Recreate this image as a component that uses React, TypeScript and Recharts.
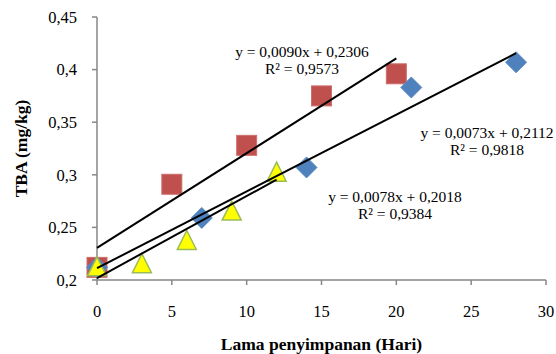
import {
  ScatterChart,
  Scatter,
  XAxis,
  YAxis,
  Label,
  Customized,
} from 'recharts';

const DAYS_A = [0, 7, 14, 21, 28];
const TBA_A = [0.212, 0.259, 0.307, 0.383, 0.407];

const DAYS_B = [0, 5, 10, 15, 20];
const TBA_B = [0.212, 0.291, 0.328, 0.375, 0.396];

const DAYS_C = [0, 3, 6, 9, 12];
const TBA_C = [0.213, 0.216, 0.238, 0.266, 0.303];

// trendline endpoints as drawn (x, y)
const TREND_A = [
  [0, 0.2112],
  [28, 0.4156],
];
const TREND_B = [
  [0, 0.2306],
  [20, 0.4106],
];
const TREND_C = [
  [0, 0.2018],
  [12, 0.2954],
];

const X_TICKS = [0, 5, 10, 15, 20, 25, 30];
const Y_TICKS = [0.2, 0.25, 0.3, 0.35, 0.4, 0.45];

const EQUATIONS = [
  { eq: 'y = 0,0090x + 0,2306', r2: 'R² = 0,9573', x: 302, y: 57 },
  { eq: 'y = 0,0073x + 0,2112', r2: 'R² = 0,9818', x: 487, y: 138 },
  { eq: 'y = 0,0078x + 0,2018', r2: 'R² = 0,9384', x: 395, y: 202 },
];

const toPoints = (xs: number[], ys: number[]) => xs.map((x, i) => ({ x, y: ys[i] }));
const toLine = (pts: number[][]) => pts.map(([x, y]) => ({ x, y }));

const FONT = '"Liberation Serif", "Times New Roman", serif';
const AXIS_COLOR = '#878787';
const TICK = { fill: '#000', fontSize: 16.5, fontFamily: FONT };
const TITLE = { fontFamily: FONT, fontSize: 17.5, fontWeight: 'bold', fill: '#000' };

function Square(props: any) {
  const { cx, cy } = props;
  return (
    <rect x={cx - 10} y={cy - 10} width={20} height={20} fill="#C0504D" stroke="#CD6F6C" strokeWidth={1} />
  );
}

function Diamond(props: any) {
  const { cx, cy } = props;
  const r = 10.5;
  return (
    <path
      d={`M${cx},${cy - r} L${cx + r},${cy} L${cx},${cy + r} L${cx - r},${cy} Z`}
      fill="#4F81BD"
      stroke="#5B8BC4"
      strokeWidth={1}
    />
  );
}

function Triangle(props: any) {
  const { cx, cy } = props;
  const h = 9.5;
  return (
    <path
      d={`M${cx},${cy - h} L${cx + h},${cy + h} L${cx - h},${cy + h} Z`}
      fill="#FFFF00"
      stroke="#9BBB59"
      strokeWidth={1.5}
    />
  );
}

const NoDot = () => <g />;

function Equations() {
  return (
    <g fontFamily={FONT} fontSize={15.5} fill="#000">
      {EQUATIONS.map((e) => (
        <g key={e.eq}>
          <text x={e.x} y={e.y} textAnchor="middle">
            {e.eq}
          </text>
          <text x={e.x} y={e.y + 17} textAnchor="middle">
            {e.r2}
          </text>
        </g>
      ))}
    </g>
  );
}

export default function App() {
  return (
    <div style={{ position: 'absolute', left: 0, top: 0, width: 556, height: 354, background: '#fff' }}>
      <ScatterChart width={556} height={354} margin={{ top: 17, right: 10, bottom: 34, left: 37 }}>
        <XAxis
          type="number"
          dataKey="x"
          domain={[0, 30]}
          ticks={X_TICKS}
          tick={TICK}
          tickSize={5}
          tickMargin={20}
          height={40}
          stroke={AXIS_COLOR}
          strokeWidth={1.5}
        >
          <Label value="Lama penyimpanan (Hari)" position="bottom" offset={18} style={TITLE} />
        </XAxis>
        <YAxis
          type="number"
          dataKey="y"
          domain={[0.2, 0.45]}
          ticks={Y_TICKS}
          tick={TICK}
          tickFormatter={(v: number) => String(Number(v.toFixed(2))).replace('.', ',')}
          tickSize={5}
          tickMargin={15}
          width={60}
          stroke={AXIS_COLOR}
          strokeWidth={1.5}
        >
          <Label
            value="TBA (mg/kg)"
            angle={-90}
            position="insideLeft"
            offset={-16}
            style={{ ...TITLE, textAnchor: 'middle' }}
          />
        </YAxis>
        <Scatter data={toPoints(DAYS_B, TBA_B)} shape={<Square />} isAnimationActive={false} />
        <Scatter data={toPoints(DAYS_A, TBA_A)} shape={<Diamond />} isAnimationActive={false} />
        <Scatter data={toPoints(DAYS_C, TBA_C)} shape={<Triangle />} isAnimationActive={false} />
        <Scatter
          data={toLine(TREND_B)}
          line={{ stroke: '#000', strokeWidth: 2 }}
          shape={<NoDot />}
          isAnimationActive={false}
        />
        <Scatter
          data={toLine(TREND_A)}
          line={{ stroke: '#000', strokeWidth: 2 }}
          shape={<NoDot />}
          isAnimationActive={false}
        />
        <Scatter
          data={toLine(TREND_C)}
          line={{ stroke: '#000', strokeWidth: 2 }}
          shape={<NoDot />}
          isAnimationActive={false}
        />
        <Customized component={<Equations />} />
      </ScatterChart>
    </div>
  );
}
